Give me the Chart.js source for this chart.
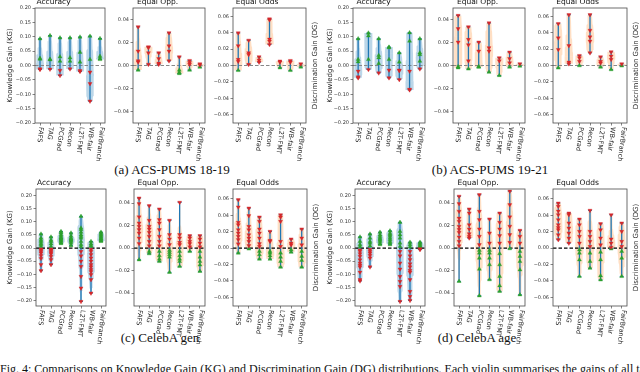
<!DOCTYPE html>
<html>
<head>
<meta charset="utf-8">
<script src="https://cdn.jsdelivr.net/npm/chart.js@4.4.1/dist/chart.umd.min.js"></script>
<style>
body{margin:0;background:#fff;width:640px;height:372px;overflow:hidden;position:relative}
canvas{position:absolute}
.cap{position:absolute;font-family:"Liberation Serif","DejaVu Serif",serif;font-size:13px;color:#111;white-space:nowrap;transform:translateX(-50%)}
.fig{position:absolute;left:0;top:362px;font-family:"Liberation Serif","DejaVu Serif",serif;font-size:12px;color:#111;white-space:nowrap}
</style>
</head>
<body>
<div class="cap" style="left:172px;top:162px">(a) ACS-PUMS 18-19</div>
<div class="cap" style="left:490px;top:162px">(b) ACS-PUMS 19-21</div>
<div class="cap" style="left:160px;top:330px">(c) CelebA gen</div>
<div class="cap" style="left:477px;top:330px">(d) CelebA age</div>
<div class="fig">Fig. 4: Comparisons on Knowledge Gain (KG) and Discrimination Gain (DG) distributions. Each violin summarises the gains of all tasks for</div>
<script>
// --- Data ---
const methods = ['FAFS', 'TAG', 'PCGrad', 'Recon', 'L2T-FMT', 'WB-fair', 'FairBranch'];
const accTicks = [-0.20, -0.15, -0.10, -0.05, 0.00, 0.05, 0.10, 0.15, 0.20];
const oppTicks = [-0.04, -0.02, 0.00, 0.02, 0.04];
const oddsTicks = [-0.06, -0.04, -0.02, 0.00, 0.02, 0.04, 0.06];

// (a) ACS-PUMS 18-19
const acs1819Acc = [
  [0.093, 0.025, 0.022, -0.012, -0.014],
  [0.104, 0.022, 0.020, -0.013],
  [0.096, 0.030, 0.015, -0.017, -0.035],
  [0.096, 0.027, 0.015, -0.012],
  [0.099, 0.046, 0.012, -0.018, -0.021],
  [0.102, 0.021, -0.023, -0.063, -0.124],
  [0.094, 0.032, 0.025, 0.021]
];
const acs1819Opp = [
  [0.0336, 0.0125, 0.004, 0.003, -0.004],
  [0.0162, 0.0155, 0.011, 0.001],
  [0.011, 0.006, 0.002, 0.001],
  [0.0284, 0.017, 0.0125, 0.004],
  [0.0075, -0.004, -0.006, -0.007],
  [0.0043, 0.0025, 0.001, -0.004],
  [0.0014, 0.0005, -0.0014]
];
const acs1819Odds = [
  [0.0396, 0.024, 0.0073, 0.005, -0.006],
  [0.0307, 0.0154, 0.0133, 0.0012],
  [0.0105, 0.0065, 0.004],
  [0.0566, 0.0555, 0.032, 0.0295, 0.0255],
  [0.0053, 0.004, -0.0028],
  [0.006, 0.004, -0.006],
  [0.002, -0.0018]
];
// (b) ACS-PUMS 19-21
const acs1921Acc = [
  [0.093, 0.021, 0.013, -0.020, -0.040, -0.043],
  [0.113, 0.103, 0.021, -0.014],
  [0.093, 0.035, 0.027, 0.007, -0.026],
  [0.064, 0.062, 0.021, -0.016, -0.043],
  [0.044, 0.012, -0.016, -0.018, -0.049],
  [0.114, 0.085, -0.020, -0.083, -0.085],
  [0.093, 0.044, 0.038, 0.015, -0.012]
];
const acs1921Opp = [
  [0.0435, 0.032, 0.0203, -0.001, -0.002],
  [0.0336, 0.0226, 0.018, 0.004, -0.003],
  [0.0203, 0.0125, -0.001, -0.0014],
  [0.037, 0.0154, 0.0125, -0.0058],
  [0.0067, 0.004, -0.0087],
  [0.0116, 0.006, 0.0023, -0.0014],
  [0.0015, -0.0005]
];
const acs1921Odds = [
  [0.051, 0.0335, 0.0194, -0.003],
  [0.0618, 0.0242, 0.004, 0.002],
  [0.0121, 0.0093, 0.005, -0.0002],
  [0.0618, 0.0428, 0.0347, 0.0295, 0.0154],
  [0.0105, 0.005, 0.003, -0.002],
  [0.0166, 0.0113, 0.0073, -0.005],
  [0.002, -0.0005]
];
// (c) CelebA gen
const genAcc = [
  [0.053, 0.038, 0.030, 0.025, 0.018, 0.013, 0.006, -0.004, -0.009, -0.014, -0.019, -0.029, -0.040, -0.063, -0.086],
  [0.042, 0.030, 0.025, 0.016, 0.006, -0.004, -0.008, -0.013, -0.018, -0.022, -0.032, -0.044, -0.063],
  [0.063, 0.058, 0.051, 0.045, 0.040, 0.038, 0.035, 0.032, 0.028, 0.025, 0.020, 0.017],
  [0.057, 0.045, 0.038, 0.035, 0.031, 0.029, 0.025, 0.019, 0.009],
  [0.120, 0.076, 0.070, 0.060, 0.050, 0.044, 0.038, 0.025, 0.013, 0.005, -0.013, -0.030, -0.050, -0.070, -0.108, -0.152, -0.203],
  [0.025, 0.016, 0.010, 0.006, -0.005, -0.013, -0.025, -0.038, -0.050, -0.063, -0.072, -0.082, -0.090, -0.101, -0.120, -0.171],
  [0.060, 0.056, 0.051, 0.047, 0.042, 0.038, 0.035, 0.032, 0.028, 0.025]
];
const genOpp = [
  [0.0444, 0.0394, 0.0276, 0.0222, 0.0193, 0.0163, 0.0133, 0.0089, 0.004, -0.0104],
  [0.0376, 0.0246, 0.0193, 0.0169, 0.0139, 0.0104, 0.0059, 0.002, -0.003, -0.005],
  [0.0347, 0.0252, 0.0222, 0.0163, 0.0104, 0.0059, 0.002, -0.003, -0.0068, -0.0098, -0.0119],
  [0.0246, 0.0119, 0.008, 0.003, -0.002, -0.0039, -0.0059, -0.008, -0.0216],
  [0.0406, 0.0119, 0.0089, 0.005, 0.003, -0.003, -0.0068, -0.0098, -0.0119, -0.0163],
  [0.011, 0.0089, 0.0059, 0.0039, 0.001, -0.003],
  [0.011, 0.008, 0.0044, 0.001, -0.003, -0.008, -0.0119, -0.015, -0.0207]
];
const genOdds = [
  [0.0589, 0.050, 0.0313, 0.0284, 0.0223, 0.0183, 0.0142, 0.0102, 0.005, -0.006],
  [0.0487, 0.0394, 0.0264, 0.0223, 0.0162, 0.0122, 0.0081, 0.003, -0.001],
  [0.0378, 0.0325, 0.0232, 0.0183, 0.0122, 0.0053, 0.002, -0.004, -0.008, -0.0134],
  [0.0203, 0.0093, 0.0081, -0.004, -0.006, -0.0093, -0.0134],
  [0.0406, 0.0378, 0.0325, 0.0081, 0.002, -0.006, -0.011, -0.0162, -0.0232],
  [0.011, 0.006, 0.004, -0.002, -0.005],
  [0.0232, 0.0122, 0.004, -0.004, -0.010, -0.015, -0.0232]
];
// (d) CelebA age
const ageAcc = [
  [0.042, 0.025, 0.013, 0.005, -0.008, -0.013, -0.022, -0.032, -0.045, -0.057, -0.065, -0.072, -0.092, -0.120, -0.125],
  [0.053, 0.038, 0.025, 0.019, 0.008, -0.006, -0.013, -0.019, -0.028, -0.038, -0.072],
  [0.060, 0.050, 0.044, 0.038, 0.034, 0.030, 0.025, 0.018, 0.013],
  [0.065, 0.056, 0.051, 0.045, 0.038, 0.032, 0.025, 0.020, 0.013],
  [0.0975, 0.063, 0.050, 0.038, 0.019, 0.006, -0.013, -0.030, -0.057, -0.080, -0.108, -0.127, -0.146, -0.203],
  [0.022, 0.013, 0.004, -0.013, -0.030, -0.044, -0.060, -0.072, -0.085, -0.092, -0.120, -0.165, -0.184, -0.199],
  [0.022, 0.018, 0.013, 0.008, 0.004, -0.003, -0.006]
];
const ageOpp = [
  [0.046, 0.0394, 0.0326, 0.0265, 0.0237, 0.0193, 0.0165, 0.0139, 0.0098, 0.0059, 0.002, -0.0296],
  [0.0347, 0.0311, 0.0207, 0.0169, 0.0127, 0.0104, 0.0089],
  [0.0474, 0.0326, 0.0252, 0.0169, 0.0104, 0.003, -0.002, -0.0044, -0.0089, -0.0187, -0.0424],
  [0.0258, 0.0133, 0.0044, -0.002, -0.0044, -0.0089, -0.0148, -0.0281],
  [0.0311, 0.0228, 0.0169, 0.011, 0.0044, -0.005, -0.0148, -0.0252, -0.0335, -0.0385],
  [0.0505, 0.0385, 0.0276, 0.0193, 0.0119, 0.005, -0.0005],
  [0.0157, 0.0104, 0.0044, -0.003, -0.0074, -0.0119, -0.0193, -0.0415]
];
const ageOdds = [
  [0.0548, 0.0508, 0.045, 0.0406, 0.0345, 0.0284, 0.025, 0.0223, 0.0162, 0.0102],
  [0.0426, 0.0406, 0.0305, 0.0244, 0.0183, 0.0122, 0.006],
  [0.0353, 0.0284, 0.0203, 0.0142, 0.006, -0.002, -0.006, -0.0142, -0.0345],
  [0.0459, 0.0203, 0.0142, 0.0081, 0.002, -0.006, -0.0162, -0.0244],
  [0.0297, 0.0223, 0.0122, 0.004, -0.005, -0.0142, -0.0337, -0.0386],
  [0.0406, 0.011, 0.006, 0.001, -0.0008],
  [0.0305, 0.0203, 0.0081, 0.002, -0.004, -0.0122, -0.0345]
];

// --- Layout (frame box of every subplot, in page pixels) ---
const top1 = {T: 8, B: 123}, top2 = {T: 189, B: 306};
const panels = [
  {...top1, cl: 0,   L: 35,  R: 107, title: 'Accuracy',   data: acs1819Acc,  y: [-0.2, 0.2],   ticks: accTicks,  kg: true},
  {...top1, cl: 108, L: 133, R: 207, title: 'Equal Opp.', data: acs1819Opp,  y: [-0.05, 0.05], ticks: oppTicks},
  {...top1, cl: 208, L: 233, R: 306, title: 'Equal Odds', data: acs1819Odds, y: [-0.07, 0.07], ticks: oddsTicks, dg: true},
  {...top1, cl: 320, L: 353, R: 427, title: 'Accuracy',   data: acs1921Acc,  y: [-0.2, 0.2],   ticks: accTicks,  kg: true},
  {...top1, cl: 428, L: 453, R: 527, title: 'Equal Opp.', data: acs1921Opp,  y: [-0.05, 0.05], ticks: oppTicks},
  {...top1, cl: 528, L: 553, R: 627, title: 'Equal Odds', data: acs1921Odds, y: [-0.07, 0.07], ticks: oddsTicks, dg: true},
  {...top2, cl: 0,   L: 36,  R: 108, title: 'Accuracy',   data: genAcc,  y: [-0.22, 0.224],    ticks: accTicks,  kg: true, dark: true},
  {...top2, cl: 109, L: 134, R: 207, title: 'Equal Opp.', data: genOpp,  y: [-0.0515, 0.0525], ticks: oppTicks,  dark: true},
  {...top2, cl: 208, L: 233, R: 307, title: 'Equal Odds', data: genOdds, y: [-0.0705, 0.072],  ticks: oddsTicks, dg: true, dark: true},
  {...top2, cl: 320, L: 355, R: 427, title: 'Accuracy',   data: ageAcc,  y: [-0.22, 0.224],    ticks: accTicks,  kg: true, dark: true},
  {...top2, cl: 429, L: 454, R: 527, title: 'Equal Opp.', data: ageOpp,  y: [-0.0515, 0.0525], ticks: oppTicks,  dark: true},
  {...top2, cl: 528, L: 553, R: 627, title: 'Equal Odds', data: ageOdds, y: [-0.0705, 0.072],  ticks: oddsTicks, dg: true, dark: true}
];

const FONT = '"DejaVu Sans"';
const BLUE = '#1f77b4', RED = '#d62728', GREEN = '#2ca02c';
const TITLE_H = 10, XAXIS_H = 45;

// --- Helpers ---
const fmt = v => v.toFixed(2).replace('-', '\u2212');

// violin outline from a gaussian kde (scott bandwidth), split in two halves
function violin(vals, i, halfW) {
  const n = vals.length;
  const mean = vals.reduce((a, b) => a + b, 0) / n;
  const sd = Math.sqrt(vals.reduce((a, b) => a + (b - mean) ** 2, 0) / Math.max(n - 1, 1)) || 1e-3;
  const bw = sd * Math.pow(n, -0.2);
  const lo = Math.min(...vals), hi = Math.max(...vals);
  const N = 40, ys = [], ds = [];
  for (let k = 0; k <= N; k++) {
    const y = lo + (hi - lo) * k / N;
    let d = 0;
    vals.forEach(v => d += Math.exp(-0.5 * ((y - v) / bw) ** 2));
    ys.push(y); ds.push(d);
  }
  const dmax = Math.max(...ds);
  const w = ds.map(d => d / dmax * halfW);
  const m = w.indexOf(Math.max(...w));
  const up = [], low = [];
  for (let k = m; k <= N; k++) up.push({x: i - w[k], y: ys[k]});
  for (let k = N; k >= m; k--) up.push({x: i + w[k], y: ys[k]});
  for (let k = m; k >= 0; k--) low.push({x: i - w[k], y: ys[k]});
  for (let k = 0; k <= m; k++) low.push({x: i + w[k], y: ys[k]});
  return [up, low];
}

// frame, rotated category labels, right-hand axis label
const panelDeco = {
  id: 'panelDeco',
  afterDraw(chart, args, o) {
    const {ctx, chartArea: a, scales: {x}} = chart;
    ctx.save();
    ctx.strokeStyle = '#4a4a4a'; ctx.lineWidth = 0.8;
    ctx.strokeRect(a.left, a.top, a.right - a.left, a.bottom - a.top);
    ctx.font = '6.5px ' + FONT; ctx.fillStyle = '#1a1a1a';
    ctx.textAlign = 'left'; ctx.textBaseline = 'middle';
    const ang = 97 * Math.PI / 180;
    methods.forEach((m, i) => {
      const px = x.getPixelForValue(i);
      const w = ctx.measureText(m).width;
      ctx.save();
      ctx.translate(px - Math.cos(ang) * w / 2, a.bottom + 4);
      ctx.rotate(ang);
      ctx.fillText(m, 0, 0);
      ctx.restore();
    });
    if (o.dg) {
      ctx.font = '7px ' + FONT; ctx.textAlign = 'center';
      ctx.translate(a.right + 9, (a.top + a.bottom) / 2);
      ctx.rotate(-Math.PI / 2);
      ctx.fillText('Discrimination Gain (DG)', 0, 0);
    }
    ctx.restore();
  }
};

function makePanel(p) {
  const fair = p.title !== 'Accuracy';
  const yW = p.L - p.cl, padR = p.dg ? 14 : 3;
  const cv = document.createElement('canvas');
  cv.width = yW + (p.R - p.L) + padR;
  cv.height = TITLE_H + (p.B - p.T) + XAXIS_H;
  cv.style.left = p.cl + 'px';
  cv.style.top = (p.T - TITLE_H) + 'px';
  document.body.appendChild(cv);

  const red = [], green = [];
  p.data.forEach((vals, i) => vals.forEach(v => {
    const worse = fair ? v > 0 : v < 0;
    (worse ? red : green).push({x: i, y: v});
  }));
  const ds = [
    {type: 'scatter', data: red, pointStyle: 'triangle', rotation: 180, pointRadius: 2.3,
      backgroundColor: RED, borderColor: RED, borderWidth: 0.4},
    {type: 'scatter', data: green, pointStyle: 'triangle', pointRadius: 2.3,
      backgroundColor: GREEN, borderColor: GREEN, borderWidth: 0.4}
  ];
  p.data.forEach((vals, i) => {
    ds.push({type: 'line', data: [{x: i, y: Math.min(...vals)}, {x: i, y: Math.max(...vals)}],
      borderColor: BLUE, borderWidth: 1.3, fill: false,
      pointStyle: 'line', pointRadius: 2, pointBorderColor: BLUE, pointBorderWidth: 1});
  });
  ds.push({type: 'line', data: [{x: -0.5, y: 0}, {x: 6.5, y: 0}],
    borderColor: p.dark ? '#000' : '#888', borderWidth: 1.2, borderDash: [3.5, 2],
    pointRadius: 0, fill: false});
  const body = fair ? 'rgba(255,150,60,0.3)' : 'rgba(31,119,180,0.3)';
  p.data.forEach((vals, i) => {
    violin(vals, i, 0.4).forEach(half => ds.push({type: 'line', data: half, fill: 'shape',
      backgroundColor: body, borderColor: 'rgba(0,0,0,0)', borderWidth: 0, pointRadius: 0}));
  });

  new Chart(cv, {
    type: 'scatter',
    data: {datasets: ds},
    options: {
      responsive: false, animation: false, devicePixelRatio: 1, events: [],
      layout: {padding: {left: 0, right: padR, top: 0, bottom: 0}},
      plugins: {
        legend: {display: false}, tooltip: {enabled: false},
        title: {display: true, text: p.title, color: '#111',
          font: {family: FONT, size: 7.5, weight: 'normal'}, padding: {top: 0, bottom: 1}},
        panelDeco: {dg: !!p.dg}
      },
      scales: {
        x: {
          type: 'linear', min: -0.5, max: 6.5,
          afterBuildTicks: s => { s.ticks = methods.map((m, i) => ({value: i})); },
          afterFit: s => { s.height = XAXIS_H; },
          ticks: {display: false},
          grid: {drawOnChartArea: false, tickLength: 2.5, color: '#333', lineWidth: 0.6},
          border: {display: false}
        },
        y: {
          min: p.y[0], max: p.y[1],
          afterBuildTicks: s => { s.ticks = p.ticks.map(v => ({value: v})); },
          afterFit: s => { s.width = yW; },
          ticks: {font: {family: FONT, size: 5}, color: '#333', padding: 1.5, callback: v => fmt(v)},
          grid: {drawOnChartArea: false, tickLength: 2.5, color: '#333', lineWidth: 0.6},
          border: {display: false},
          title: {display: !!p.kg, text: 'Knowledge Gain (KG)', color: '#222',
            font: {family: FONT, size: 7}, padding: {top: 5.8, bottom: 0}}
        }
      }
    },
    plugins: [panelDeco]
  });
}

panels.forEach(makePanel);
</script>
</body>
</html>
